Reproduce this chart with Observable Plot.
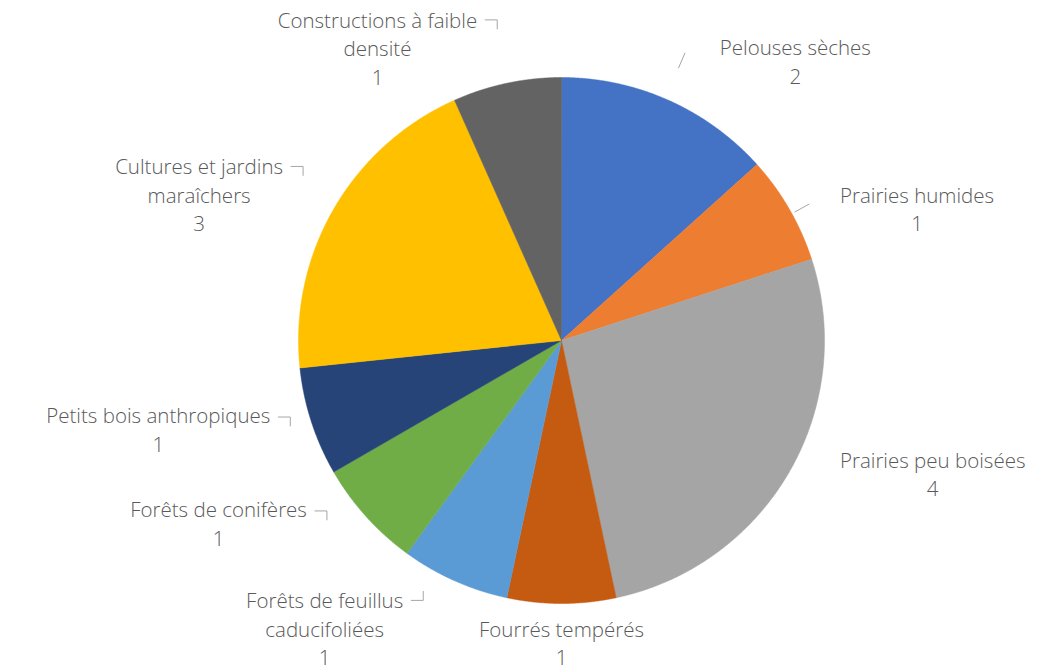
<!DOCTYPE html>
<html>
<head>
<meta charset="utf-8">
<script src="https://cdn.jsdelivr.net/npm/d3@7"></script>
<script src="https://cdn.jsdelivr.net/npm/@observablehq/plot@0.6"></script>
<style>
  html, body { margin: 0; padding: 0; background: #ffffff; }
  #chart { width: 1041px; height: 672px; }
</style>
</head>
<body>
<div id="chart"></div>
<script>
// ---- Data ----
const categories = [
  "Pelouses sèches",
  "Prairies humides",
  "Prairies peu boisées",
  "Fourrés tempérés",
  "Forêts de feuillus caducifoliées",
  "Forêts de conifères",
  "Petits bois anthropiques",
  "Cultures et jardins maraîchers",
  "Constructions à faible densité"
];
const labelLines = [
  ["Pelouses sèches"],
  ["Prairies humides"],
  ["Prairies peu boisées"],
  ["Fourrés tempérés"],
  ["Forêts de feuillus", "caducifoliées"],
  ["Forêts de conifères"],
  ["Petits bois anthropiques"],
  ["Cultures et jardins", "maraîchers"],
  ["Constructions à faible", "densité"]
];
const values = [2, 1, 4, 1, 1, 1, 1, 3, 1];
const colors = ["#4472C4", "#ED7D31", "#A5A5A5", "#C55A11", "#5B9BD5", "#70AD47", "#264478", "#FFC000", "#636363"];

// ---- Layout ----
const W = 1041, H = 672;
const CX = 561, CY = 340, R = 263;
const FS = 20.5, LH = 1.39, FONT = "Open Sans", WEIGHT = 300;
const TEXT_COLOR = "#595959";
const LEADER_COLOR = "#A6A6A6";
const leaderSet = new Set([
  "Pelouses sèches", "Prairies humides", "Forêts de feuillus caducifoliées",
  "Forêts de conifères", "Petits bois anthropiques",
  "Cultures et jardins maraîchers", "Constructions à faible densité"
]);

const data = categories.map((name, i) => ({name, value: values[i], color: colors[i], lines: labelLines[i]}));
const arcs = d3.pie().sort(null).value(d => d.value)(data);

// slice polygons in unit-circle coordinates (y up)
const slices = arcs.map(a => {
  const pts = [{x: 0, y: 0}];
  const n = Math.max(2, Math.ceil((a.endAngle - a.startAngle) / 0.005));
  for (let k = 0; k <= n; k++) {
    const t = a.startAngle + (a.endAngle - a.startAngle) * k / n;
    pts.push({x: Math.sin(t), y: Math.cos(t)});
  }
  pts.push({x: 0, y: 0});
  return {name: a.data.name, color: a.data.color, pts};
});

// text measurement
const ctx = document.createElement("canvas").getContext("2d");
ctx.font = `${WEIGHT} ${FS}px "${FONT}"`;
const toData = (px, py) => ({x: (px - CX) / R, y: (CY - py) / R});

const labels = [];
const leaders = [];
arcs.forEach((a, i) => {
  const d = a.data;
  const lines = [...d.lines, String(d.value)];
  const w = d3.max(lines, l => ctx.measureText(l).width);
  const h = lines.length * FS * LH;
  const mid = (a.startAngle + a.endAngle) / 2;
  const th = mid + (11 * Math.PI / 180) * Math.sin(2 * mid);
  const rl = R * 1.13;
  const px = CX + rl * Math.sin(th), py = CY - rl * Math.cos(th);
  const s = Math.sin(th), c = Math.cos(th);
  let left;
  if (s > 0.2) left = px; else if (s < -0.2) left = px - w; else left = px - w / 2;
  let top = c > 0 ? py - h : py;
  top = Math.max(4, Math.min(H - h - 2, top));
  const cxL = left + w / 2, cyL = top + h / 2;
  const p = toData(cxL, cyL);
  labels.push({x: p.x, y: p.y, text: lines.join("\n")});
  if (leaderSet.has(d.name)) {
    const ex = CX + R * Math.sin(mid), ey = CY - R * Math.cos(mid);
    let seg;
    if (s < 0) {
      const sy = top + 0.3 * h * (lines.length > 2 ? 0.6 : 1);
      const x0 = left + w + 8, x1 = left + w + 20;
      const dir = Math.sign(ey - sy) || 1;
      seg = [[x0, sy], [x1, sy], [x1, sy + 9 * dir]];
    } else {
      const mx = left - 38, my = cyL;
      const vx = mx - CX, vy = my - CY, L = Math.hypot(vx, vy);
      seg = [[mx - 8 * vx / L, my - 8 * vy / L], [mx + 8 * vx / L, my + 8 * vy / L]];
    }
    seg.forEach(([sx, sy]) => leaders.push({...toData(sx, sy), id: d.name}));
  }
});

const plot = Plot.plot({
  width: W,
  height: H,
  margin: 0,
  x: {domain: [-CX / R, (W - CX) / R], axis: null},
  y: {domain: [-(H - CY) / R, CY / R], axis: null},
  style: {background: "#ffffff"},
  marks: [
    ...slices.map(s => Plot.line(s.pts, {x: "x", y: "y", fill: s.color, stroke: s.color, strokeWidth: 0.5, curve: "linear"})),
    Plot.line(leaders, {x: "x", y: "y", z: "id", stroke: LEADER_COLOR, strokeWidth: 1}),
    Plot.text(labels, {
      x: "x", y: "y", text: "text",
      textAnchor: "middle", lineAnchor: "middle", lineHeight: LH,
      fontSize: FS, fontFamily: FONT, fontWeight: WEIGHT, fill: TEXT_COLOR
    })
  ]
});
document.getElementById("chart").appendChild(plot);
</script>
</body>
</html>
